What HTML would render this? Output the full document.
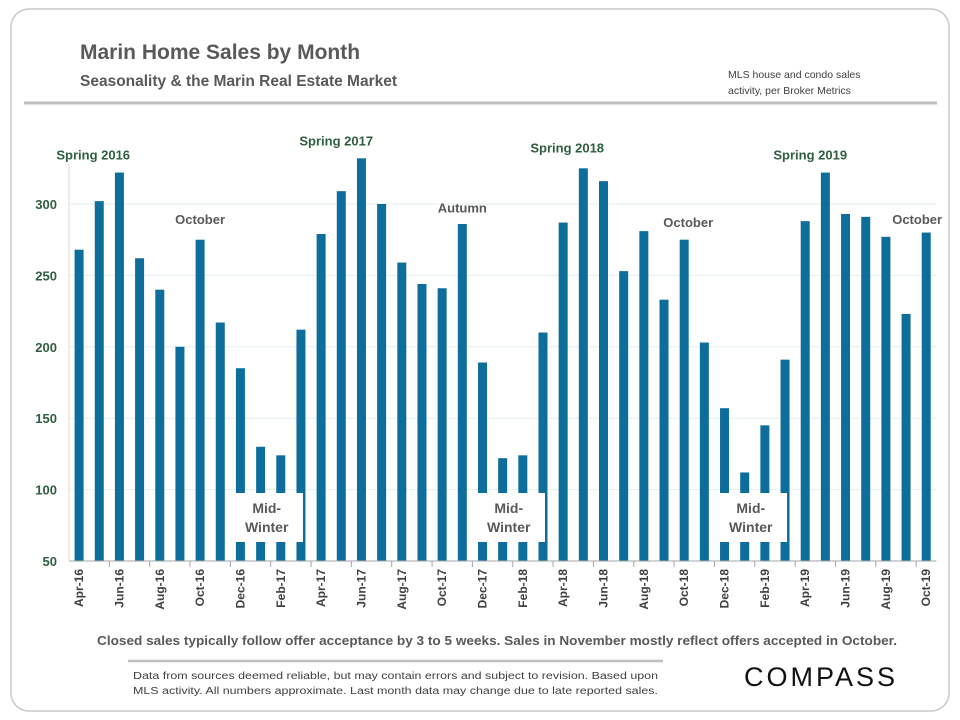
<!DOCTYPE html>
<html><head><meta charset="utf-8">
<style>
body{margin:0;background:#fff;font-family:"Liberation Sans",sans-serif;}
#wrap{position:relative;width:960px;height:720px;overflow:hidden;}
</style></head>
<body>
<div id="wrap">
<svg id="svg" width="960" height="720" xmlns="http://www.w3.org/2000/svg">
<rect x="11" y="9" width="938" height="702" rx="18" fill="#fff" stroke="#c8c8c8" stroke-width="1.5"/>
<text x="80" y="59" font-size="21" font-weight="bold" fill="#595959">Marin Home Sales by Month</text>
<text x="80" y="86" font-size="15.5" font-weight="bold" fill="#595959">Seasonality &amp; the Marin Real Estate Market</text>
<text x="728" y="78" font-size="10.5" fill="#404040">MLS house and condo sales</text>
<text x="728" y="94" font-size="10.5" fill="#404040">activity, per Broker Metrics</text>
<line x1="24" y1="103" x2="937" y2="103" stroke="#bfbfbf" stroke-width="3"/>
<g id="grid"></g><g id="bars"></g><g id="axes"></g><g id="labels"></g>
<text x="497" y="645" font-size="12.5" font-weight="bold" fill="#595959" text-anchor="middle" textLength="800" lengthAdjust="spacingAndGlyphs">Closed sales typically follow offer acceptance by 3 to 5 weeks. Sales in November mostly reflect offers accepted in October.</text>
<line x1="128" y1="661" x2="663" y2="661" stroke="#bfbfbf" stroke-width="2.5"/>
<text x="133" y="679" font-size="10" fill="#404040" textLength="525" lengthAdjust="spacingAndGlyphs">Data from sources deemed reliable, but may contain errors and subject to revision. Based upon</text>
<text x="133" y="694" font-size="10" fill="#404040" textLength="525" lengthAdjust="spacingAndGlyphs">MLS activity. All numbers approximate. Last month data may change due to late reported sales.</text>
<text x="821" y="686" font-size="27" fill="#111" text-anchor="middle" letter-spacing="3">COMPASS</text>
</svg>
</div>
<script>
const months = ["Apr-16","May-16","Jun-16","Jul-16","Aug-16","Sep-16","Oct-16","Nov-16","Dec-16","Jan-17","Feb-17","Mar-17","Apr-17","May-17","Jun-17","Jul-17","Aug-17","Sep-17","Oct-17","Nov-17","Dec-17","Jan-18","Feb-18","Mar-18","Apr-18","May-18","Jun-18","Jul-18","Aug-18","Sep-18","Oct-18","Nov-18","Dec-18","Jan-19","Feb-19","Mar-19","Apr-19","May-19","Jun-19","Jul-19","Aug-19","Sep-19","Oct-19"];
const sales = [268,302,322,262,240,200,275,217,185,130,124,212,279,309,332,300,259,244,241,286,189,122,124,210,287,325,316,253,281,233,275,203,157,112,145,191,288,322,293,291,277,223,280];
const yTicks = [50,100,150,200,250,300];
const annoText = ["Spring 2016","October","Spring 2017","Autumn","Spring 2018","October","Spring 2019","October"];
const annoIndex = [0.7,6,12.75,19,24.2,30.2,36.25,41.55];
const annoValue = [331,286,341,294,336,284,331,286];
const annoColor = ["#2e5e3e","#595959","#2e5e3e","#595959","#2e5e3e","#595959","#2e5e3e","#595959"];
const winters = [[8,11],[20,23],[32,35]];

const NS="http://www.w3.org/2000/svg";
const x0=69, step=20.17, yMin=50, yMax=300, yB=561, yT=204;
const X=i=>x0+step*(i+0.5);
const Y=v=>yB-(v-yMin)*(yB-yT)/(yMax-yMin);
function mk(tag,attrs,parent,txt){const e=document.createElementNS(NS,tag);for(const k in attrs)e.setAttribute(k,attrs[k]);if(txt!==undefined)e.textContent=txt;document.getElementById(parent).appendChild(e);return e;}

yTicks.forEach(v=>{
  if(v>yMin){const g=mk('line',{x1:x0,x2:x0+step*months.length,y1:Y(v),y2:Y(v),stroke:'#e3efef','stroke-width':1},'grid');
  
  }
  const t=mk('text',{x:x0-12,y:Y(v)+5,'font-size':13,'font-weight':'bold',fill:'#2e5e3e','text-anchor':'end'},'axes',v);
  
  
});
sales.forEach((v,i)=>{
  const r=mk('rect',{x:X(i)-4.5,y:Y(v),width:9,height:yB-Y(v),fill:'#0e6e9b'},'bars');
  
  
});
const ax=mk('line',{x1:x0,x2:x0+step*months.length,y1:yB,y2:yB,stroke:'#a6a6a6','stroke-width':1},'axes');


const ay=mk('line',{x1:x0,x2:x0,y1:yT-40,y2:yB,stroke:'#d9d9d9','stroke-width':1},'axes');


months.forEach((m,i)=>{
  if(i%2===1){const tk=mk('line',{x1:X(i)+step/2,x2:X(i)+step/2,y1:yB,y2:yB+6,stroke:'#a6a6a6'},'axes');
  
  }
  if(i%2===0){const t=mk('text',{x:0,y:0,'font-size':12,'font-weight':'bold',fill:'#404040','text-anchor':'end',transform:`translate(${X(i)+4},${yB+8}) rotate(-90)`},'axes',m);
  
  }
});
annoText.forEach((s,k)=>{
  const t=mk('text',{x:X(annoIndex[k]),y:Y(annoValue[k]),'font-size':13,'font-weight':'bold',fill:annoColor[k],'text-anchor':'middle'},'labels',s);
  
  
});
winters.forEach(w=>{
  const l=X(w[0])-10, r=X(w[1])+2;
  const b=mk('rect',{x:l,y:493,width:r-l,height:49,fill:'#fff'},'labels');
  
  
  const t1=mk('text',{x:(l+r)/2,y:513,'font-size':14,'font-weight':'bold',fill:'#595959','text-anchor':'middle'},'labels','Mid-');
  
  
  const t2=mk('text',{x:(l+r)/2,y:532,'font-size':14,'font-weight':'bold',fill:'#595959','text-anchor':'middle'},'labels','Winter');
  
  
});
</script>
</body></html>
